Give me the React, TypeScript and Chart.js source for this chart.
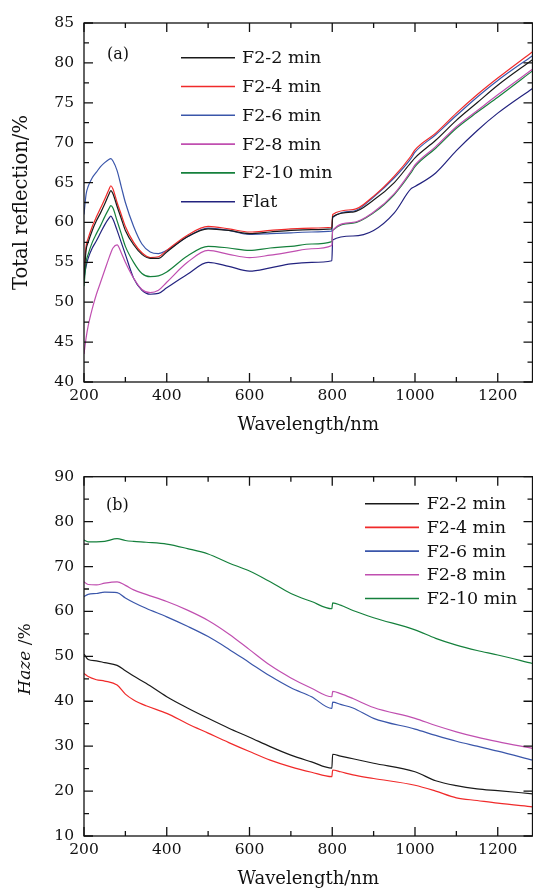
import React, { useEffect, useRef } from 'react';
import { Chart, registerables } from 'chart.js';

Chart.register(...registerables);

const FONT = "'DejaVu Serif', 'Liberation Serif', serif";

// ---------- (a) Total reflection ----------
const WL_A = [200, 205, 210, 220, 230, 240, 250, 260, 265, 270, 280, 290, 300, 320, 340, 360, 380, 400, 450, 500, 550, 600, 650, 700, 750, 799, 801, 850, 900, 950, 990, 1000, 1050, 1100, 1150, 1200, 1284];
const A_F22 = [53.0, 56.5, 57.5, 59.0, 60.2, 61.2, 62.3, 63.5, 64.0, 63.6, 62.0, 60.5, 59.0, 57.2, 56.0, 55.5, 55.5, 56.3, 58.2, 59.2, 59.0, 58.6, 58.8, 59.0, 59.1, 59.2, 60.7, 61.3, 62.8, 65.0, 67.5, 68.1, 70.3, 72.8, 75.0, 77.2, 80.4];
const A_F24 = [54.0, 57.0, 58.0, 59.5, 60.7, 61.8, 62.9, 64.1, 64.6, 64.2, 62.5, 61.0, 59.5, 57.5, 56.2, 55.6, 55.7, 56.5, 58.4, 59.5, 59.2, 58.8, 59.0, 59.2, 59.3, 59.4, 61.0, 61.6, 63.3, 65.8, 68.3, 69.1, 71.2, 73.7, 76.0, 78.1, 81.4];
const A_F26 = [61.0, 63.5, 64.5, 65.6, 66.3, 67.0, 67.5, 67.9, 68.0, 67.7, 66.5, 64.5, 62.5, 59.5, 57.3, 56.3, 56.1, 56.5, 58.2, 59.3, 59.0, 58.5, 58.6, 58.7, 58.8, 58.9, 60.6, 61.4, 63.2, 65.6, 68.0, 68.8, 71.0, 73.4, 75.7, 77.8, 80.9];
const A_F28 = [43.5, 45.5, 47.0, 49.2, 51.0, 52.5, 54.0, 55.5, 56.2, 56.8, 57.2, 56.2, 55.0, 53.0, 51.6, 51.2, 51.5, 52.5, 55.0, 56.5, 56.0, 55.6, 55.9, 56.3, 56.7, 57.1, 59.0, 60.0, 61.3, 63.6, 66.4, 67.2, 69.5, 72.0, 74.0, 76.0, 79.2];
const A_F210 = [52.0, 55.0, 56.0, 57.5, 58.6, 59.6, 60.7, 61.7, 62.1, 61.8, 60.2, 58.6, 57.0, 55.0, 53.6, 53.2, 53.3, 53.8, 55.8, 57.0, 56.8, 56.5, 56.8, 57.0, 57.3, 57.6, 59.0, 59.9, 61.2, 63.5, 66.2, 67.0, 69.3, 71.8, 73.8, 75.7, 79.0];
const A_FLAT = [53.0, 54.5, 55.5, 56.8, 57.7, 58.7, 59.7, 60.5, 60.8, 60.4, 59.0, 57.5, 56.0, 53.0, 51.5, 51.0, 51.1, 51.8, 53.5, 55.0, 54.5, 53.9, 54.3, 54.8, 55.0, 55.2, 57.8, 58.3, 59.0, 61.2, 64.2, 64.5, 66.2, 69.0, 71.5, 73.7, 76.8];

// ---------- (b) Haze ----------
const WL_B = [200, 210, 230, 250, 280, 300, 320, 350, 400, 450, 500, 550, 600, 650, 700, 750, 799, 801, 820, 850, 900, 1000, 1050, 1100, 1150, 1200, 1284];
const B_F22 = [50.5, 49.3, 49.0, 48.6, 48.0, 46.8, 45.6, 44.0, 41.0, 38.5, 36.2, 34.0, 32.0, 29.9, 28.0, 26.5, 25.1, 28.2, 27.8, 27.2, 26.2, 24.3, 22.3, 21.2, 20.5, 20.1, 19.4];
const B_F24 = [46.2, 45.5, 44.8, 44.5, 43.6, 41.6, 40.3, 39.0, 37.3, 35.0, 32.9, 30.8, 28.8, 26.9, 25.4, 24.2, 23.2, 24.7, 24.3, 23.6, 22.8, 21.3, 20.0, 18.5, 17.9, 17.3, 16.5];
const B_F26 = [63.3, 63.8, 64.0, 64.3, 64.2, 63.0, 62.0, 60.7, 58.8, 56.7, 54.4, 51.6, 48.6, 45.6, 43.0, 41.0, 38.4, 39.8, 39.3, 38.5, 36.2, 33.8, 32.4, 31.1, 30.0, 28.9, 26.9];
const B_F28 = [66.6, 66.0, 65.9, 66.3, 66.6, 65.8, 64.8, 63.8, 62.2, 60.3, 58.0, 55.0, 51.5, 48.0, 45.2, 42.9, 41.0, 42.2, 41.7, 40.6, 38.6, 36.2, 34.6, 33.2, 32.0, 31.0, 29.5];
const B_F210 = [75.9, 75.5, 75.5, 75.6, 76.2, 75.8, 75.6, 75.4, 75.0, 74.0, 72.8, 70.8, 69.0, 66.6, 64.0, 62.2, 60.6, 61.9, 61.4, 60.2, 58.6, 55.9, 54.0, 52.5, 51.3, 50.3, 48.4];

const LABELS = ['F2-2 min', 'F2-4 min', 'F2-6 min', 'F2-8 min', 'F2-10 min', 'Flat'];
const COLORS = ['#1a1a1a', '#f02a2a', '#3a56aa', '#c04fb0', '#15803c', '#23237f'];

const X_MIN = 200;
const X_MAX = 1284;
const X_MAJOR = [200, 400, 600, 800, 1000, 1200];
const X_MINOR = [300, 500, 700, 900, 1100];
const A_Y_MAJOR = [40, 45, 50, 55, 60, 65, 70, 75, 80, 85];
const A_Y_MINOR = [42.5, 47.5, 52.5, 57.5, 62.5, 67.5, 72.5, 77.5, 82.5];
const B_Y_MAJOR = [10, 20, 30, 40, 50, 60, 70, 80, 90];
const B_Y_MINOR = [15, 25, 35, 45, 55, 65, 75, 85];

const frameTicks = {
  id: 'frameTicks',
  afterDraw(chart: any, _a: any, opts: any) {
    const { ctx, chartArea: a, scales } = chart;
    const xs = scales.x;
    const ys = scales.y;
    ctx.save();
    ctx.strokeStyle = '#111';
    ctx.lineWidth = 1.3;
    ctx.strokeRect(a.left, a.top, a.right - a.left, a.bottom - a.top);
    const drawX = (vals: number[], len: number) => {
      vals.forEach((v) => {
        const p = xs.getPixelForValue(v);
        ctx.beginPath();
        ctx.moveTo(p, a.bottom);
        ctx.lineTo(p, a.bottom - len);
        ctx.moveTo(p, a.top);
        ctx.lineTo(p, a.top + len);
        ctx.stroke();
      });
    };
    const drawY = (vals: number[], len: number) => {
      vals.forEach((v) => {
        const p = ys.getPixelForValue(v);
        ctx.beginPath();
        ctx.moveTo(a.left, p);
        ctx.lineTo(a.left + len, p);
        ctx.moveTo(a.right, p);
        ctx.lineTo(a.right - len, p);
        ctx.stroke();
      });
    };
    drawX(opts.xMajor, 9);
    drawX(opts.xMinor, 5);
    drawY(opts.yMajor, 9);
    drawY(opts.yMinor, 5);
    ctx.restore();
  },
};

const annot = {
  id: 'annot',
  afterDraw(chart: any, _a: any, opts: any) {
    const { ctx } = chart;
    ctx.save();
    ctx.fillStyle = '#111';
    ctx.textBaseline = 'middle';
    ctx.font = `16px ${FONT}`;
    ctx.textAlign = 'left';
    ctx.fillText(opts.panel, opts.panelX, opts.panelY);
    // legend
    const ds = chart.data.datasets;
    ctx.font = `17.5px ${FONT}`;
    ds.forEach((d: any, i: number) => {
      const y = opts.legY + i * opts.legStep;
      ctx.strokeStyle = d.borderColor;
      ctx.lineWidth = 1.6;
      ctx.beginPath();
      ctx.moveTo(opts.legX1, y);
      ctx.lineTo(opts.legX2, y);
      ctx.stroke();
      ctx.fillStyle = '#111';
      ctx.fillText(d.label, opts.legText, y + 1);
    });
    if (opts.haze) {
      ctx.translate(opts.haze.x, opts.haze.y);
      ctx.rotate(-Math.PI / 2);
      const it = `italic 17px ${FONT}`;
      const rm = `17px ${FONT}`;
      ctx.font = it;
      const w1 = ctx.measureText('Haze').width;
      ctx.font = rm;
      const w2 = ctx.measureText(' /%').width;
      const s = -(w1 + w2) / 2;
      ctx.textAlign = 'left';
      ctx.font = it;
      ctx.fillText('Haze', s, 0);
      ctx.font = rm;
      ctx.fillText(' /%', s + w1, 0);
    }
    ctx.restore();
  },
};

function makeConfig(
  wl: number[],
  series: number[][],
  yMin: number,
  yMax: number,
  yStep: number,
  yTitle: string | null,
  layoutTop: number,
  xHeight: number,
  xTitlePadBottom: number,
  annotOpts: any,
  yMajor: number[],
  yMinor: number[],
) {
  return {
    type: 'line',
    data: {
      datasets: series.map((vals, i) => ({
        label: LABELS[i],
        data: wl.map((x, j) => ({ x, y: vals[j] })),
        borderColor: COLORS[i],
        borderWidth: 1.2,
        pointRadius: 0,
        cubicInterpolationMode: 'monotone',
        fill: false,
      })),
    },
    options: {
      responsive: false,
      animation: false,
      layout: { padding: { top: layoutTop, right: 0.5, left: 0, bottom: 0 } },
      plugins: {
        legend: { display: false },
        tooltip: { enabled: false },
        frameTicks: { xMajor: X_MAJOR, xMinor: X_MINOR, yMajor, yMinor },
        annot: annotOpts,
      },
      scales: {
        x: {
          type: 'linear',
          min: X_MIN,
          max: X_MAX,
          grid: { display: false, drawTicks: false },
          border: { display: false },
          ticks: {
            stepSize: 200,
            includeBounds: false,
            padding: 5,
            color: '#111',
            font: { family: FONT, size: 15.5 },
            maxRotation: 0,
            callback: (v: any) => String(v),
          },
          title: {
            display: true,
            text: 'Wavelength/nm',
            color: '#111',
            font: { family: FONT, size: 18 },
            padding: { top: 0, bottom: xTitlePadBottom },
          },
          afterFit: (s: any) => {
            s.height = xHeight;
          },
        },
        y: {
          min: yMin,
          max: yMax,
          grid: { display: false, drawTicks: false },
          border: { display: false },
          ticks: {
            stepSize: yStep,
            padding: 10,
            color: '#111',
            font: { family: FONT, size: 15.5 },
            callback: (v: any) => String(v),
          },
          title: {
            display: !!yTitle,
            text: yTitle || '',
            color: '#111',
            font: { family: FONT, size: 19.5 },
            padding: { top: 10, bottom: 0 },
          },
          afterFit: (s: any) => {
            s.width = 84;
          },
        },
      },
    },
    plugins: [frameTicks, annot],
  };
}

function Panel({ cfg, top }: { cfg: () => any; top: number }) {
  const ref = useRef<HTMLCanvasElement | null>(null);
  useEffect(() => {
    if (!ref.current) return;
    const chart = new Chart(ref.current, cfg() as any);
    return () => chart.destroy();
  }, []);
  return (
    <canvas
      ref={ref}
      width={533}
      height={445}
      style={{ position: 'absolute', left: 0, top, width: 533, height: 445, display: 'block' }}
    />
  );
}

export default function App() {
  const cfgA = () =>
    makeConfig(
      WL_A,
      [A_F22, A_F24, A_F26, A_F28, A_F210, A_FLAT],
      40,
      85,
      5,
      'Total reflection/%',
      23,
      63,
      9,
      {
        panel: '(a)',
        panelX: 107,
        panelY: 54.5,
        legX1: 181,
        legX2: 235,
        legText: 242,
        legY: 57.7,
        legStep: 28.8,
      },
      A_Y_MAJOR,
      A_Y_MINOR,
    );
  const cfgB = () =>
    makeConfig(
      WL_B,
      [B_F22, B_F24, B_F26, B_F28, B_F210],
      10,
      90,
      10,
      null,
      30.7,
      55,
      1,
      {
        panel: '(b)',
        panelX: 106,
        panelY: 59.5,
        legX1: 365,
        legX2: 419,
        legText: 426.7,
        legY: 57.7,
        legStep: 23.7,
        haze: { x: 26, y: 213 },
      },
      B_Y_MAJOR,
      B_Y_MINOR,
    );
  return (
    <div style={{ position: 'absolute', left: 0, top: 0, width: 533, height: 891, background: '#fff' }}>
      <Panel cfg={cfgA} top={0} />
      <Panel cfg={cfgB} top={446} />
    </div>
  );
}
